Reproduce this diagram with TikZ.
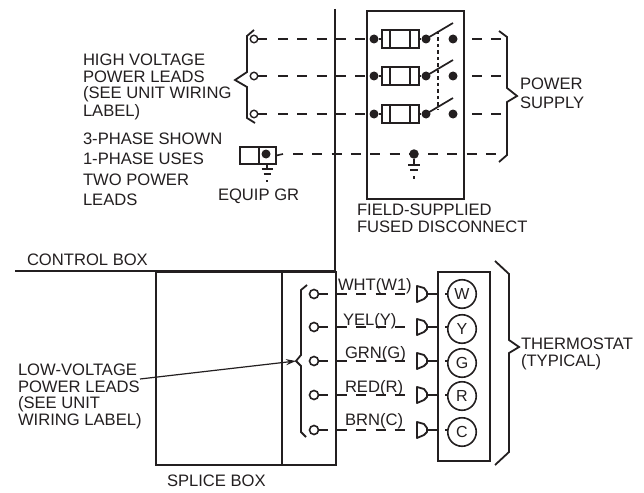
\documentclass[tikz,border=0pt]{standalone}
\usepackage{fontspec}
\setmainfont{Liberation Sans}
\usetikzlibrary{arrows.meta}
\definecolor{ink}{HTML}{231F20}
\tikzset{
  lbl/.style={anchor=base west,inner sep=0pt,outer sep=0pt,font=\fontsize{16.6}{18}\selectfont,text=ink},
  wire/.style={line width=1.6pt,draw=ink},
  dashwire/.style={wire,dash pattern=on 10pt off 9.3pt},
  heavy/.style={line width=1.8pt,draw=ink},
  opendot/.style={circle,draw=ink,line width=1.4pt,fill=white,minimum size=7.5pt,inner sep=0pt},
  bigopen/.style={circle,draw=ink,line width=1.6pt,fill=white,minimum size=9pt,inner sep=0pt},
  soliddot/.style={circle,fill=ink,minimum size=9pt,inner sep=0pt},
  fusebox/.style={draw=ink,line width=1.7pt,fill=white,minimum width=37pt,minimum height=18pt,inner sep=0pt},
  term/.style={circle,draw=ink,line width=1.6pt,fill=white,minimum size=28.5pt,inner sep=0pt,font=\fontsize{16}{18}\selectfont,text=ink},
}
\begin{document}
\begin{tikzpicture}[x=1pt,y=-1pt,line cap=butt]
\useasboundingbox (0,0) rectangle (644,492);
\fill[white] (0,0) rectangle (644,492);
% main rules
\coordinate (ruletop) at (335,9);
\coordinate (rulebot) at (335,271);
\draw[heavy] (ruletop) -- (rulebot);
\coordinate (cbl) at (15,271);
\draw[heavy] (cbl) -- (rulebot);
\node[draw=ink,line width=1.8pt,minimum width=180pt,minimum height=193pt,inner sep=0pt,anchor=north west] (splice) at (155,271) {};
\coordinate (sptop) at (282,271);
\coordinate (spbot) at (282,464);
\draw[heavy] (sptop) -- (spbot);
% disconnect box
\node[draw=ink,line width=1.8pt,minimum width=97pt,minimum height=188pt,inner sep=0pt,anchor=north west] (disc) at (366,10) {};
% high voltage rows
\foreach \n/\y in {a/39,b/76,c/114}{
  \node[opendot] (hv\n) at (254,\y) {};
  \node[soliddot] (fi\n) at (374,\y) {};
  \node[fusebox] (fu\n) at (400.5,\y) {};
  \draw[line width=1.5pt,draw=ink] (390,\y-9) -- (390,\y+9) (410,\y-9) -- (410,\y+9);
  \node[soliddot] (sa\n) at (426,\y) {};
  \node[soliddot] (sb\n) at (453,\y) {};
  \coordinate (ps\n) at (501,\y);
  \coordinate (bl\n) at (453,\y-16);
  \draw[wire] (hv\n) -- (267,\y);
  \draw[wire] (fi\n) -- (fu\n);
  \draw[wire] (fu\n) -- (sa\n);
  \draw[line width=1.7pt,draw=ink] (sa\n.center) -- (bl\n);
  \draw[dashwire] (278,\y) -- (fi\n);
  \draw[dashwire] (472,\y) -- (ps\n);
}
\coordinate (dottop) at (438,31);
\coordinate (dotbot) at (438,110);
\draw[line width=1.7pt,draw=ink,dash pattern=on 3.5pt off 3pt] (dottop) -- (dotbot);
% left brace
\draw[heavy,line join=miter] (254,30) -- (247,36) -- (247,72) -- (235,80) -- (247,87) -- (247,118) -- (255,123);
% right brace
\draw[heavy,line join=miter] (499,31) -- (507,37) -- (507,88) -- (517,96) -- (507,102) -- (507,155) -- (499,162);
% equipment ground
\node[draw=ink,line width=1.8pt,minimum width=36pt,minimum height=17pt,inner sep=0pt,anchor=north west] (equip) at (239,146) {};
\coordinate (eqt) at (259,146);
\coordinate (eqb) at (259,163);
\draw[heavy] (eqt) -- (eqb);
\node[soliddot] (eqdot) at (266,154) {};
\node[soliddot,minimum size=9.5pt] (gnd) at (414,154) {};
\coordinate (gnde) at (497,154);
\draw[wire] (equip.east) -- (283,154);
\draw[dashwire] (293,154) -- (gnd);
\draw[dashwire] (428,154) -- (gnde);
\coordinate (g1) at (267,163);
\coordinate (g2) at (267,169);
\draw[wire] (g1) -- (g2);
\draw[wire] (261.5,169) -- (272.5,169) (263.5,174) -- (270.5,174);
\fill[ink] (265.8,179.5) rectangle (268.2,182);
\coordinate (g3) at (414,165);
\draw[wire] (gnd) -- (g3);
\draw[wire] (408,165) -- (420,165) (410,170) -- (418,170);
\fill[ink] (412.8,176) rectangle (415.2,178.5);
% low voltage rows
\node[draw=ink,line width=1.8pt,minimum width=52pt,minimum height=189pt,inner sep=0pt,anchor=north west] (tbox) at (437,271) {};
\foreach \n/\y/\t/\ty/\tl/\lx/\ly in {w/294/W/294/WHT(W1)/338/290, y/327/Y/329/YEL(Y)/343/325, g/361/G/363/GRN(G)/345/358, r/395/R/396/RED(R)/345/392, c/430/C/432/BRN(C)/345/425}{
  \node[bigopen] (lv\n) at (314,\y) {};
  \node[term] (t\n) at (462,\ty) {\t};
  \node[lbl] (lab\n) at (\lx,\ly) {\tl};
  \draw[wire] (lv\n) -- (328,\y);
  \draw[dashwire] (337,\y) -- (412,\y);
  \draw[heavy,line join=round] (417,\y-8) -- (424,\y-6) -- (427,\y-2) -- (427,\y+2) -- (424,\y+5) -- (417,\y+8) -- cycle;
  \draw[heavy] (427,\y) -- (437,\y);
  \draw[wire] (445,\y) -- (448,\y);
}
% low brace
\draw[heavy,line join=miter] (307,285) -- (301,290) -- (301,355) -- (296,361) -- (301,366) -- (301,432) -- (306,437);
% thermostat brace
\draw[heavy,line join=miter] (495,261) -- (509,274) -- (509,340) -- (519,347) -- (509,353) -- (509,452) -- (495,465);
% labels
\node[lbl] (t1) at (83,66) {HIGH VOLTAGE};
\node[lbl] (t2) at (83,82.5) {POWER LEADS};
\node[lbl] (t3) at (83,99) {(SEE UNIT WIRING};
\node[lbl] (t4) at (83,116) {LABEL)};
\node[lbl] (t5) at (83,144) {3-PHASE SHOWN};
\node[lbl] (t6) at (83,164) {1-PHASE USES};
\node[lbl] (t7) at (83,185) {TWO POWER};
\node[lbl] (t8) at (83,205) {LEADS};
\node[lbl] (t9) at (218,200) {EQUIP GR};
\node[lbl] (t10) at (357,215) {FIELD-SUPPLIED};
\node[lbl] (t11) at (357,232) {FUSED DISCONNECT};
\node[lbl] (t12) at (520,90) {POWER};
\node[lbl] (t13) at (520,108) {SUPPLY};
\node[lbl] (t14) at (27,265) {CONTROL BOX};
\node[lbl] (t15) at (18,375) {LOW-VOLTAGE};
\node[lbl] (t16) at (18,392) {POWER LEADS};
\node[lbl] (t17) at (18,408) {(SEE UNIT};
\node[lbl] (t18) at (18,425) {WIRING LABEL)};
\node[lbl] (t19) at (167,486) {SPLICE BOX};
\node[lbl] (t20) at (521,349) {THERMOSTAT};
\node[lbl] (t21) at (521,366) {(TYPICAL)};
\coordinate (arrs) at (140,379);
\coordinate (arre) at (296,361);
\draw[line width=1.2pt,draw=ink,-{Stealth[length=10pt,width=6pt]}] (arrs) -- (arre);
\end{tikzpicture}
\end{document}
